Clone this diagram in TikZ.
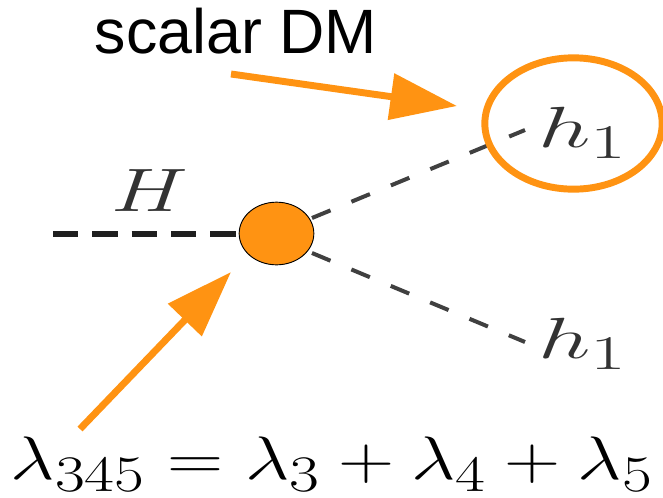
\documentclass[tikz,border=0pt]{standalone}
\usepackage{fontspec}
\setmainfont{Liberation Sans}
\usepackage{amsmath}
\usetikzlibrary{arrows.meta,shapes.geometric}
\definecolor{dmorange}{RGB}{255,147,18}
\tikzset{
 px/.style={x=0.75pt,y=-0.75pt},
 scalar/.style={dash pattern=on 15pt off 17pt,draw=black!75,line width=3pt},
 scalarH/.style={dash pattern=on 19pt off 10.5pt,draw=black!88,line width=5pt},
 pointer/.style={draw=dmorange,line width=5.2pt,-{Triangle[length=50pt,width=34pt]}},
 lab/.style={inner sep=0pt,text=black!80}
}
\newcommand{\bigmath}[3]{\scalebox{#1}[#2]{\fontsize{24.88pt}{25pt}\selectfont $#3$}}
\begin{document}
\begin{tikzpicture}[px]
\useasboundingbox (0,0) rectangle (663,497);
\node[inner sep=0pt] (title) at (236,31) {\fontsize{47pt}{48pt}\selectfont scalar DM};
\node[lab] (H) at (150,191) {\bigmath{2.6}{1.85}{H}};
\node[lab] (h1a) at (583,133) {\bigmath{2.8}{1.75}{h_1}};
\node[lab] (h1b) at (583,344) {\bigmath{2.8}{1.75}{h_1}};
\coordinate (Hend) at (53,234);
\coordinate (t1) at (525,130);
\coordinate (t2) at (525,342);
\coordinate (s1) at (312,218);
\coordinate (s2) at (312,253);
\draw[scalarH] (Hend) -- (240,234);
\draw[scalar] (s1) -- (t1);
\draw[scalar] (s2) -- (t2);
\node[ellipse,draw=dmorange,line width=5.2pt,minimum width=133pt,minimum height=98.5pt,inner sep=0pt] (ring) at (573.5,123.5) {};
\node[ellipse,draw=black,fill=dmorange,minimum width=56pt,minimum height=47pt,inner sep=0pt,line width=0.7pt] (v) at (276.5,233.5) {};
\coordinate (a1s) at (231,74);
\coordinate (a1e) at (457,106);
\coordinate (a2s) at (80,429);
\coordinate (a2e) at (231,272);
\draw[pointer] (a1s) -- (a1e);
\draw[pointer] (a2s) -- (a2e);
\node[inner sep=0pt] (eq) at (332,464) {\bigmath{2.345}{1.85}{\lambda_{345}=\lambda_3+\lambda_4+\lambda_5}};
\end{tikzpicture}
\end{document}
